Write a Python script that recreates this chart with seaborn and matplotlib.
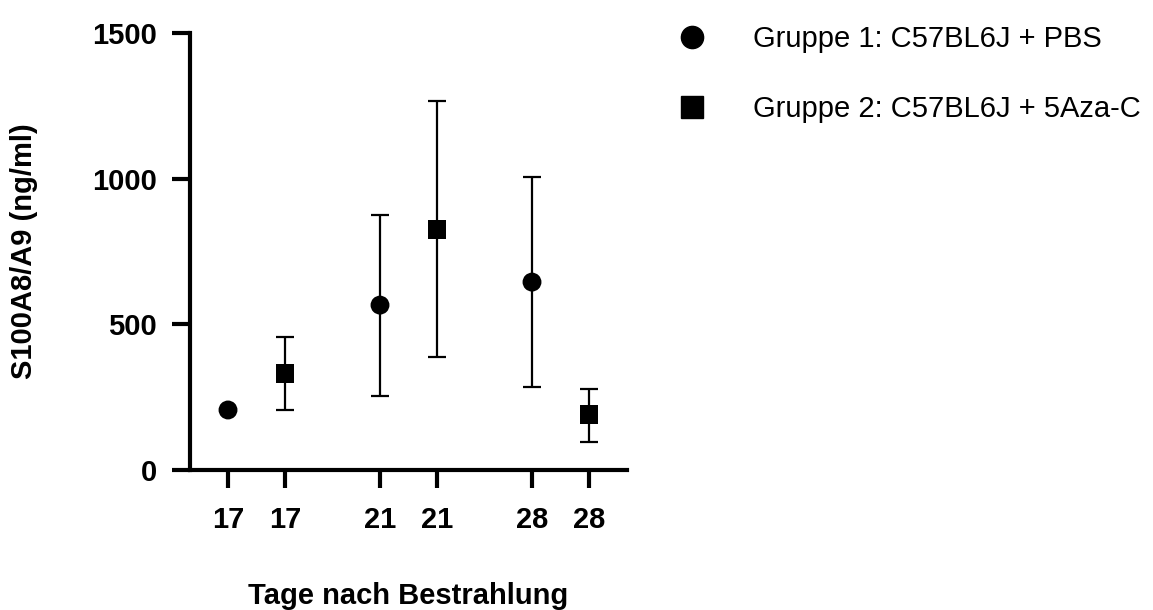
import numpy as np
import pandas as pd
import seaborn as sns
import matplotlib.pyplot as plt
from matplotlib.lines import Line2D

# values
days = ['17', '21', '28']
groups = ['Gruppe 1: C57BL6J + PBS', 'Gruppe 2: C57BL6J + 5Aza-C']
pbs_mean = [206, 566, 645]
pbs_low = [206, 254, 285]
pbs_high = [206, 875, 1006]
aza_mean = [330, 827, 189]
aza_low = [206, 388, 96]
aza_high = [456, 1267, 278]

sns.set_theme(style="white")
plt.rcParams['font.family'] = ['Liberation Sans', 'DejaVu Sans']
plt.rcParams['text.color'] = 'black'
plt.rcParams['axes.labelcolor'] = 'black'
plt.rcParams['xtick.color'] = 'black'
plt.rcParams['ytick.color'] = 'black'

rows = []
for i, d in enumerate(days):
    rows.append(dict(day=d, group=groups[0], pos=i * 8 / 3, mean=pbs_mean[i], low=pbs_low[i], high=pbs_high[i]))
    rows.append(dict(day=d, group=groups[1], pos=i * 8 / 3 + 1, mean=aza_mean[i], low=aza_low[i], high=aza_high[i]))
df = pd.DataFrame(rows)

fig = plt.figure(figsize=(11.53, 6.10), dpi=100)
ax = fig.add_axes([0.1648, 0.2295, 0.3790, 0.7164])

# error bars first (only where there is a spread), markers on top
eb = df[df['high'] > df['low']]
yerr = np.vstack([eb['mean'] - eb['low'], eb['high'] - eb['mean']])
ax.errorbar(eb['pos'], eb['mean'], yerr=yerr, fmt='none', ecolor='black',
            elinewidth=1.6, capsize=6.5, capthick=1.6, zorder=2)

markers = {groups[0]: 'o', groups[1]: 's'}
sns.scatterplot(data=df, x='pos', y='mean', style='group', markers=markers,
                color='black', s=185, edgecolor='black', linewidth=0, ax=ax,
                legend=False, zorder=3)

ax.set_xlim(-2 / 3, 7)
ax.set_ylim(0, 1500)
ax.set_yticks([0, 500, 1000, 1500])
ax.set_xticks(df['pos'])
ax.set_xticklabels(df['day'])

for side in ['top', 'right']:
    ax.spines[side].set_visible(False)
for side in ['left', 'bottom']:
    ax.spines[side].set_linewidth(3)
    ax.spines[side].set_color('black')

ax.tick_params(axis='both', direction='out', length=13, width=3, color='black',
               labelsize=21, left=True, bottom=True)
ax.tick_params(axis='y', pad=11)
ax.tick_params(axis='x', pad=13)
for lab in ax.get_xticklabels() + ax.get_yticklabels():
    lab.set_fontweight('bold')

ax.set_xlabel('Tage nach Bestrahlung', fontsize=21, fontweight='bold')
ax.set_ylabel('S100A8/A9 (ng/ml)', fontsize=21, fontweight='bold')
ax.xaxis.set_label_coords(0.5, -0.256)
ax.yaxis.set_label_coords(-0.349, 0.5)

handles = [Line2D([], [], marker=markers[g], color='black', linestyle='none',
                  markersize=16) for g in groups]
fig.legend(handles, groups, loc='upper left', bbox_to_anchor=(0.5746, 0.983),
           frameon=False, fontsize=21, borderpad=0, handlelength=1,
           labelspacing=1.45, handletextpad=1.6)

fig.savefig('out.png', dpi=100)
